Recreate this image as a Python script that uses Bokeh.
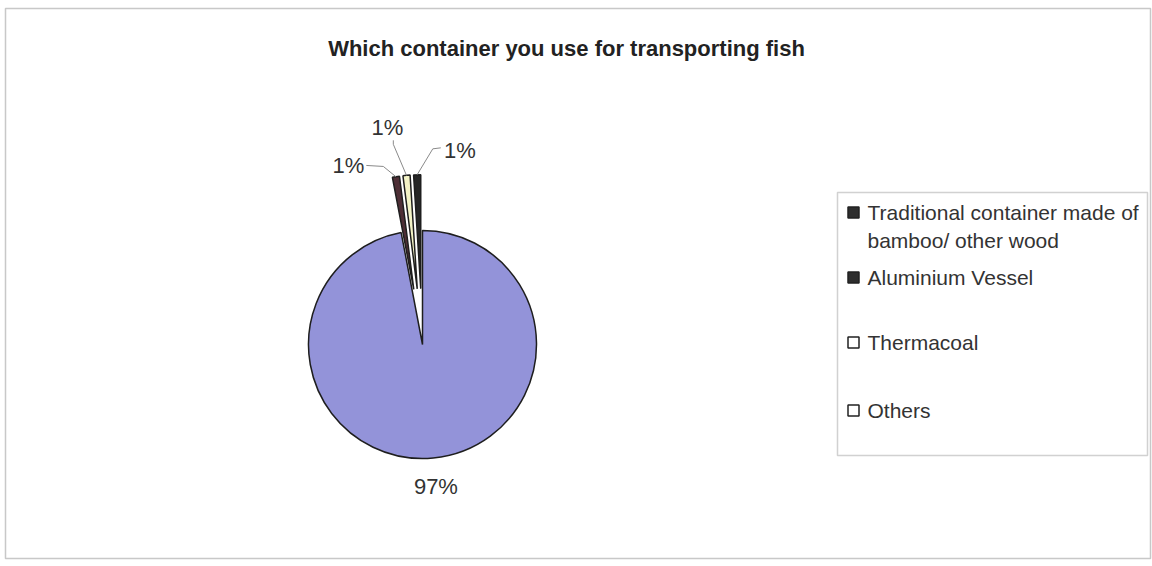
import numpy as np
from bokeh.plotting import figure
from bokeh.models import Range1d, BoxAnnotation, ColumnDataSource
from bokeh.core.properties import value
from bokeh.embed import file_html
from bokeh.resources import INLINE

# ---------------- data ----------------
title = "Which container you use for transporting fish"
categories = ["Traditional container made of\nbamboo/ other wood",
              "Aluminium Vessel", "Thermacoal", "Others"]
percent = [97, 1, 1, 1]
pct_labels = ["97%", "1%", "1%", "1%"]

# ---------------- style ----------------
slice_colors = ["#9393d9", "#4e2f36", "#f3f3c6", "#262626"]
legend_colors = ["#2e2e2e", "#2e2e2e", "#ffffff", "#ffffff"]
explode = [0.0, 0.49, 0.49, 0.49]          # fraction of radius
label_dist = [1.25, 1.70, 1.93, 1.73]      # label distance from centre (x radius)
label_shift_deg = [0.0, 13.5, 3.8, -12.7]  # label angle relative to slice middle
FONT = "Liberation Sans"

W, H = 1152, 566
p = figure(width=W, height=H, x_range=Range1d(0, W), y_range=Range1d(0, H),
           output_backend="svg", toolbar_location=None, min_border=0)
p.axis.visible = False
p.grid.visible = False
p.outline_line_color = None
p.background_fill_color = "white"
p.border_fill_color = "white"


def Y(py):
    return H - py


# outer chart border
p.add_layout(BoxAnnotation(left=5, right=1150, bottom=Y(558), top=Y(8),
                           fill_alpha=0, line_color="#4a4a4a", line_width=1.5))

# title
p.text(x=[566], y=[Y(48)], text=[title], text_font=value(FONT),
       text_font_style="bold", text_font_size="22px", text_align="center",
       text_baseline="middle", text_color="#222222")

# ---------------- pie ----------------
cx, cy, R = 422, Y(344), 114
vals = np.array(percent, dtype=float)
ang = vals / vals.sum() * 2 * np.pi
cum = np.concatenate([[0], np.cumsum(ang)])
start = np.pi / 2 - cum[1:]
end = np.pi / 2 - cum[:-1]
mid = (start + end) / 2
off = np.array(explode) * R
xs = cx + off * np.cos(mid)
ys = cy + off * np.sin(mid)
src = ColumnDataSource(dict(x=xs, y=ys, start=start, end=end, color=slice_colors))
p.wedge(x="x", y="y", radius=R, start_angle="start", end_angle="end",
        fill_color="color", line_color="#1e1e1e", line_width=1.5, source=src)

# data labels
la = mid + np.radians(label_shift_deg)
lx = cx + np.array(label_dist) * R * np.cos(la)
ly = cy + np.array(label_dist) * R * np.sin(la)
p.text(x=lx, y=ly, text=pct_labels, text_font=value(FONT), text_font_size="22px",
       text_align="center", text_baseline="middle", text_color="#333333")

# leader lines for small (exploded) slices
ox = xs + R * np.cos(mid)
oy = ys + R * np.sin(mid)
lines_x, lines_y = [], []
for i in range(1, len(percent)):
    if lx[i] < ox[i] - 20:        # label on the left
        ax, ay = lx[i] + 18, ly[i]
        ex, ey = ax + 17, ay - 1
    elif lx[i] > ox[i] + 20:      # label on the right
        ax, ay = lx[i] - 19, ly[i] + 3
        ex, ey = ax - 8, ay - 1
    else:                          # label above
        ax, ay = lx[i] + 6, ly[i] - 13
        ex, ey = ax, ay - 4
    lines_x.append([ax, ex, ox[i]])
    lines_y.append([ay, ey, oy[i]])
p.multi_line(xs=lines_x, ys=lines_y, line_color="#8a8a8a", line_width=1)

# ---------------- legend ----------------
p.add_layout(BoxAnnotation(left=837, right=1147, bottom=Y(455), top=Y(192),
                           fill_color="white", fill_alpha=1, line_color="#666666",
                           line_width=1.5, level="underlay"))
legend_row_y = [212, 277, 342, 410]
line_gap = 28
sq_x, txt_x = 853, 867
p.scatter(x=[sq_x] * len(categories), y=[Y(v) for v in legend_row_y],
          marker="square", size=11, fill_color=legend_colors,
          line_color="#222222", line_width=1.5)
tx, ty, tt = [], [], []
for cat, ry in zip(categories, legend_row_y):
    for k, line in enumerate(cat.split("\n")):
        tx.append(txt_x)
        ty.append(Y(ry + k * line_gap))
        tt.append(line)
p.text(x=tx, y=ty, text=tt, text_font=value(FONT), text_font_size="21px",
       text_align="left", text_baseline="middle", text_color="#333333")

open("out.html", "w").write(file_html(p, INLINE))
